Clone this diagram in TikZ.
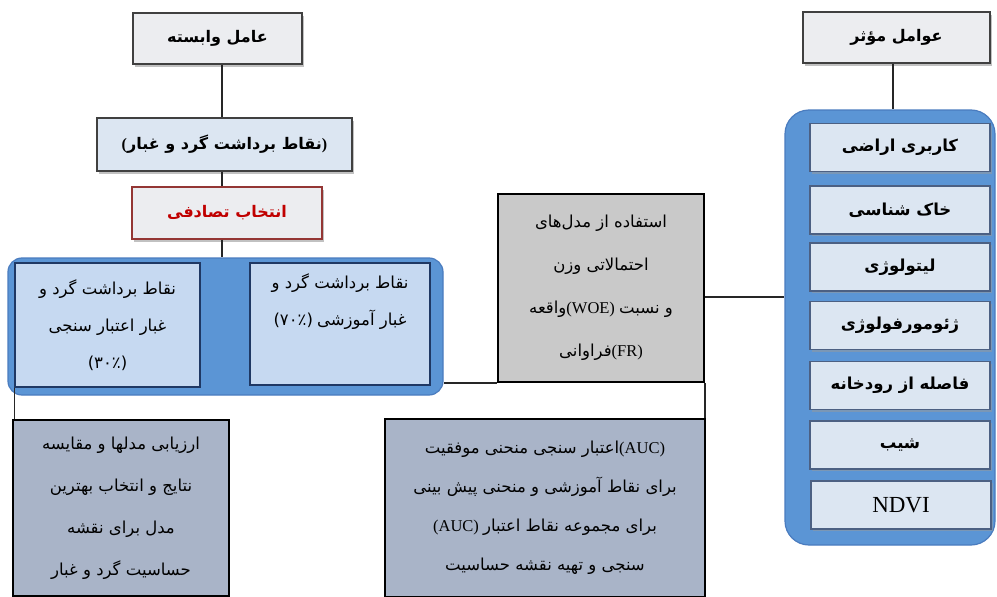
\documentclass[tikz,border=0pt]{standalone}
\usepackage{fontspec}
\setmainfont{Liberation Serif}
\newfontfamily\fafont[Script=Arabic]{DejaVu Sans}
\TeXXeTstate=1
\newcommand{\fa}[1]{{\fafont\beginR #1\endR}}
\usetikzlibrary{shadows}
\definecolor{titlegray}{HTML}{ECEDF0}
\definecolor{paleblue}{HTML}{DCE6F2}
\definecolor{midblue}{HTML}{C6D9F1}
\definecolor{boxblue}{HTML}{5B95D5}
\definecolor{boxblueedge}{HTML}{4A7CBF}
\definecolor{navyedge}{HTML}{1F3864}
\definecolor{darkred}{HTML}{943634}
\definecolor{redtext}{HTML}{C00000}
\definecolor{modelgray}{HTML}{C9C9C9}
\definecolor{slateblue}{HTML}{A9B4C8}

\begin{document}
\begin{tikzpicture}[scale=1.000000,x=1pt,y=-1pt,
  link/.style={draw=black!85,line width=1.1pt},
  title/.style={draw=black!75,fill=titlegray,line width=1.2pt,inner sep=0pt,
    drop shadow={shadow xshift=2pt,shadow yshift=-3pt,fill=black!40,opacity=0.6},
    font=\fontsize{16}{19}\selectfont\bfseries},
  group/.style={draw=boxblueedge,fill=boxblue,line width=1.2pt,inner sep=0pt},
  inbox/.style={draw=navyedge,fill=midblue,line width=1.6pt,inner sep=0pt,align=center,
    font=\fontsize{16.5}{37}\selectfont},
  factor/.style={draw=navyedge!80,fill=paleblue,line width=1.2pt,inner sep=0pt,
    minimum width=180pt,minimum height=48pt,
    drop shadow={shadow xshift=1.5pt,shadow yshift=-2pt,fill=black!40,opacity=0.5},
    font=\fontsize{16.5}{19}\selectfont\bfseries},
  result/.style={draw=black,line width=2pt,inner sep=0pt,align=center}]
\useasboundingbox (0,0) rectangle (997,597);
\fill[white] (0,0) rectangle (997,597);
% Drawing left column
\coordinate (spine) at (222.000000, 0.000000);
\node[title,minimum width=169pt,minimum height=51pt] (dep) at (217.500000, 38.500000) {\fa{عامل وابسته}};
\node[title,fill=paleblue,minimum width=255pt,minimum height=53pt] (pts) at (224.500000, 144.500000) {(\fa{نقاط برداشت گرد و غبار})};
\node[title,draw=darkred,text=redtext,minimum width=190pt,minimum height=52pt] (sel) at (227.000000, 213.000000) {\fa{انتخاب تصادفی}};
% Line: split into training and validation points
\node[group,rounded corners=14pt,minimum width=435pt,minimum height=137pt] (split) at (225.500000, 326.500000) {};
\node[inbox,minimum width=185pt,minimum height=124pt] (val) at (107.500000, 325.000000)
  {\fa{نقاط برداشت گرد و}\\ \fa{غبار اعتبار سنجی}\\ {\fafont(۳۰٪)}};
\node[inbox,minimum width=180pt,minimum height=122pt] (train) at (340.000000, 324.000000)
  {\fa{نقاط برداشت گرد و}\\ {\fafont(۷۰٪)} \fa{غبار آموزشی}\\ \strut};
\node[result,fill=slateblue,minimum width=216pt,minimum height=176pt,font=\fontsize{16.5}{42}\selectfont] (eval) at (121.000000, 508.000000)
  {\fa{ارزیابی مدلها و مقایسه}\\ \fa{نتایج و انتخاب بهترین}\\ \fa{مدل برای نقشه}\\ \fa{حساسیت گرد و غبار}};
% Line: models in the middle
\node[result,fill=modelgray,minimum width=206pt,minimum height=188pt,font=\fontsize{16.5}{43}\selectfont] (model) at (601.000000, 288.000000)
  {\fa{استفاده از مدل‌های}\\ \fa{احتمالاتی وزن}\\ \fa{واقعه}(WOE) \fa{و نسبت}\\ \fa{فراوانی}(FR)};
\node[result,fill=slateblue,minimum width=320pt,minimum height=178pt,font=\fontsize{16.5}{39}\selectfont] (auc) at (545.000000, 507.500000)
  {\fa{اعتبار سنجی منحنی موفقیت}(AUC)\\ \fa{برای نقاط آموزشی و منحنی پیش بینی}\\ (AUC) \fa{برای مجموعه نقاط اعتبار}\\ \fa{سنجی و تهیه نقشه حساسیت}};
% Line: factors on the right
\coordinate (rspine) at (893.000000, 0.000000);
\node[title,minimum width=187pt,minimum height=51pt] (infl) at (896.500000, 37.500000) {\fa{عوامل مؤثر}};
\node[group,rounded corners=24pt,minimum width=210pt,minimum height=435pt] (factors) at (890.000000, 327.500000) {};
\node[factor] (f1) at (900.000000, 147.500000) {\fa{کاربری اراضی}};
\node[factor] (f2) at (900.000000, 210.000000) {\fa{خاک شناسی}};
\node[factor] (f3) at (900.000000, 267.000000) {\fa{لیتولوژی}};
\node[factor] (f4) at (900.000000, 325.500000) {\fa{ژئومورفولوژی}};
\node[factor] (f5) at (900.000000, 385.500000) {\fa{فاصله از رودخانه}};
\node[factor] (f6) at (900.000000, 445.000000) {\fa{شیب}};
\node[factor,font=\fontsize{23}{26}\selectfont] (f7) at (901.000000, 505.000000) {NDVI};
% Done with boxes; drawing links
\draw[link] (dep.south -| spine) -- (pts.north -| spine);
\draw[link] (pts.south -| spine) -- (sel.north -| spine);
\draw[link] (sel.south -| spine) -- (split.north -| spine);
\draw[link] (val.south west) -- (val.south west |- eval.north);
\draw[link] (model.south west -| split.east) -- (model.south west);
\draw[link] (model.south east) -- (model.south east |- auc.north);
\draw[link] ([yshift=-9pt]model.east) -- ([yshift=-9pt]model.east -| factors.west);
\draw[link] (infl.south -| rspine) -- (factors.north -| rspine);
% Done with links
\end{tikzpicture}
\end{document}
